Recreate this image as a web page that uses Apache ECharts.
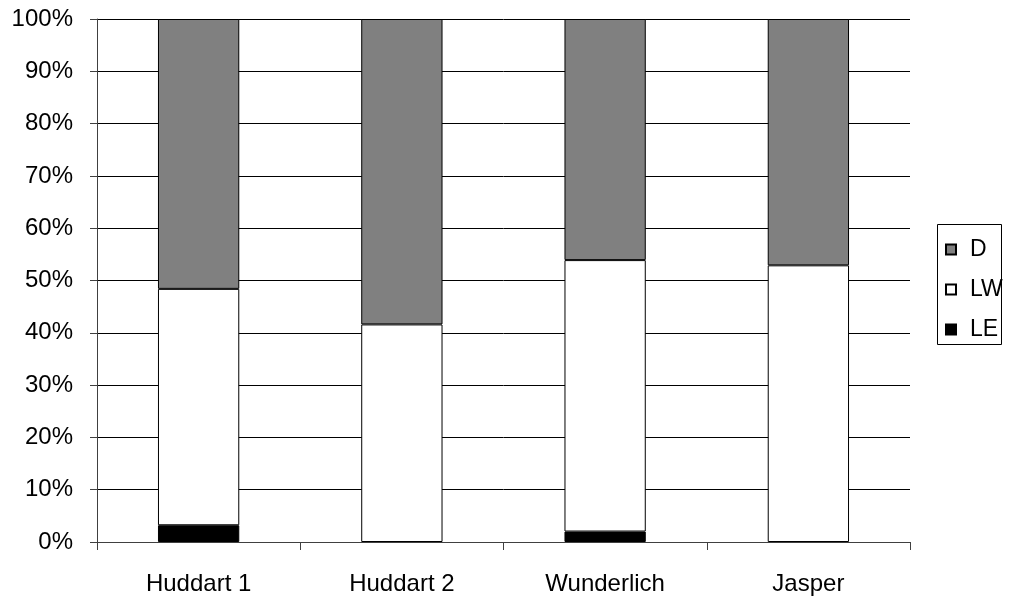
<!DOCTYPE html>
<html>
<head>
<meta charset="utf-8">
<script src="https://cdn.jsdelivr.net/npm/echarts@6/dist/echarts.min.js"></script>
<style>
  html, body { margin: 0; padding: 0; background: #fff; }
  #chart { width: 1011px; height: 599px; }
</style>
</head>
<body>
<div id="chart"></div>
<script>
// Shares (%) of each component per site
const categories = ['Huddart 1', 'Huddart 2', 'Wunderlich', 'Jasper'];
const valuesLE = [3.2, 0, 2.0, 0];
const valuesLW = [45.2, 41.6, 51.9, 52.9];
const valuesD = [51.6, 58.4, 46.1, 47.1];
const yTicks = [0, 10, 20, 30, 40, 50, 60, 70, 80, 90, 100];

const FONT = '"Liberation Sans", Arial, sans-serif';

const chart = echarts.init(document.getElementById('chart'), null, { renderer: 'canvas' });

function barSeries(name, data, color) {
  return {
    name: name,
    type: 'bar',
    stack: 'total',
    // empty segments get no outline so they leave no stray line on the axis
    data: data.map(v => v === 0 ? { value: v, itemStyle: { borderWidth: 0 } } : v),
    barCategoryGap: '60%',
    itemStyle: { color: color, borderColor: '#000', borderWidth: 1 },
    emphasis: { disabled: true }
  };
}

chart.setOption({
  animation: false,
  grid: { left: 97, right: 101, top: 19, bottom: 57 },
  xAxis: {
    type: 'category',
    data: categories,
    axisLine: { lineStyle: { color: '#404040', width: 1 } },
    axisTick: { show: true, length: 8, lineStyle: { color: '#404040' } },
    axisLabel: { color: '#000', fontFamily: FONT, fontSize: 24, margin: 30 }
  },
  yAxis: {
    type: 'value',
    min: yTicks[0],
    max: yTicks[yTicks.length - 1],
    interval: 10,
    axisLine: { show: true, lineStyle: { color: '#404040', width: 1 } },
    axisTick: { show: true, length: 7, lineStyle: { color: '#404040' } },
    axisLabel: { color: '#000', fontFamily: FONT, fontSize: 24, margin: 24, formatter: '{value}%' },
    splitLine: { show: true, lineStyle: { color: '#000', width: 1 } }
  },
  legend: {
    orient: 'vertical',
    left: 945,
    top: 238,
    padding: 0,
    itemWidth: 10,
    itemHeight: 10,
    itemGap: 17,
    icon: 'rect',
    selectedMode: false,
    data: ['D', 'LW', 'LE'],
    textStyle: { color: '#000', fontFamily: FONT, fontSize: 23, lineHeight: 22, padding: [0, 0, 0, 9] }
  },
  graphic: [{
    type: 'rect',
    shape: { x: 937.5, y: 224.5, width: 64, height: 120 },
    style: { fill: 'none', stroke: '#000', lineWidth: 1 },
    silent: true
  }],
  series: [
    barSeries('LE', valuesLE, '#000000'),
    barSeries('LW', valuesLW, '#ffffff'),
    barSeries('D', valuesD, '#808080')
  ]
});
</script>
</body>
</html>
